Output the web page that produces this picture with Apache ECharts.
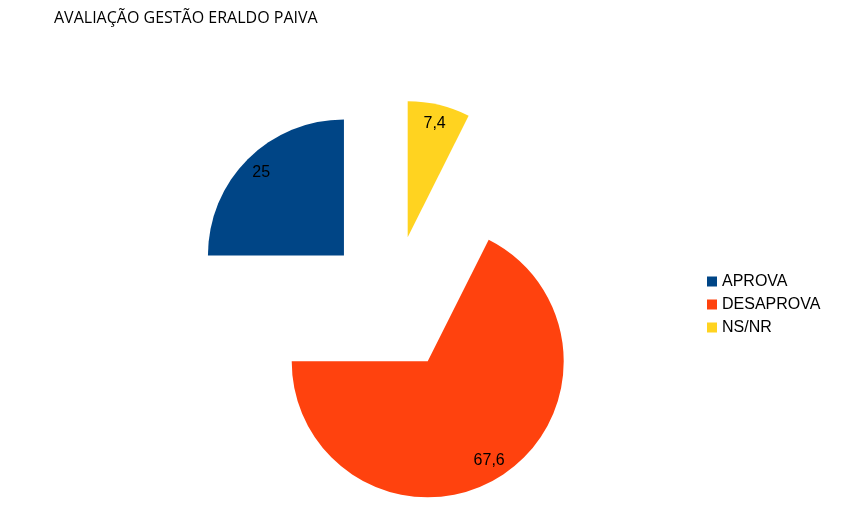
<!DOCTYPE html>
<html>
<head>
<meta charset="utf-8">
<script src="https://cdn.jsdelivr.net/npm/echarts@6/dist/echarts.min.js"></script>
<style>
html,body{margin:0;padding:0;background:#fff;}
#chart{width:850px;height:507px;}
</style>
</head>
<body>
<div id="chart"></div>
<script>
var titleText = 'AVALIAÇÃO GESTÃO ERALDO PAIVA';
var categories = ['APROVA', 'DESAPROVA', 'NS/NR'];
var values = [25, 67.6, 7.4];
var colors = ['#004586', '#ff420e', '#ffd320'];

var chart = echarts.init(document.getElementById('chart'), null, {renderer: 'canvas'});

var center = [392, 303.5];
var R = 136;
var offset = 68;

function fmt(v) { return String(v).replace('.', ','); }

var sliceData = categories.map(function (c, i) {
  return { name: c, value: values[i], selected: true, itemStyle: { color: colors[i] } };
});
var labelData = categories.map(function (c, i) {
  return { name: c, value: values[i], selected: true };
});

var option = {
  animation: false,
  backgroundColor: '#ffffff',
  title: {
    text: titleText,
    left: 54,
    top: 10,
    padding: 0,
    textStyle: {
      fontFamily: 'Open Sans',
      fontSize: 16,
      fontWeight: 'normal',
      color: '#000000',
      lineHeight: 16
    }
  },
  legend: {
    orient: 'vertical',
    left: 702,
    top: 268.5,
    icon: 'rect',
    itemWidth: 10,
    itemHeight: 10,
    itemGap: 7,
    selectedMode: false,
    data: categories,
    textStyle: {
      fontFamily: 'Liberation Sans',
      fontSize: 16,
      color: '#000000'
    }
  },
  series: [
    {
      type: 'pie',
      center: center,
      radius: [0, R],
      startAngle: 90,
      clockwise: false,
      selectedMode: 'multiple',
      selectedOffset: offset,
      silent: true,
      label: { show: false },
      labelLine: { show: false },
      emphasis: { disabled: true },
      data: sliceData
    },
    {
      type: 'pie',
      center: center,
      radius: [92, R],
      startAngle: 90,
      clockwise: false,
      selectedMode: 'multiple',
      selectedOffset: offset,
      silent: true,
      itemStyle: { color: 'rgba(0,0,0,0)', borderWidth: 0 },
      label: {
        show: true,
        position: 'inside',
        fontFamily: 'Liberation Sans',
        fontSize: 16,
        color: '#000000',
        formatter: function (p) { return fmt(p.value); }
      },
      labelLine: { show: false },
      emphasis: { disabled: true },
      data: labelData
    }
  ]
};
chart.setOption(option);
</script>
</body>
</html>
